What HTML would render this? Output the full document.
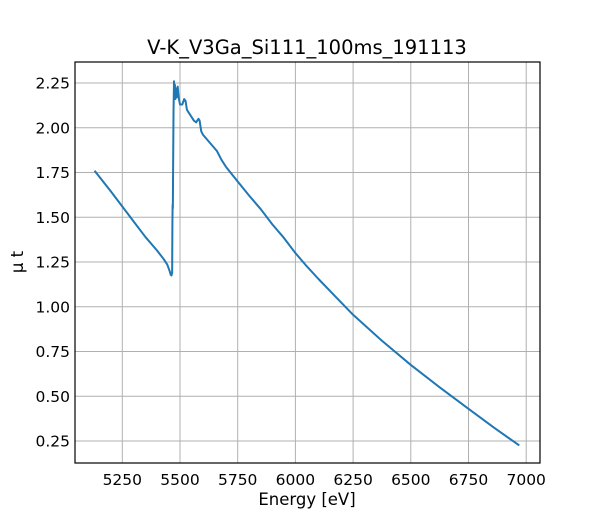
<!DOCTYPE html>
<html><head><style>body{margin:0;background:#fff}</style></head><body>
<svg width="600" height="520" xmlns="http://www.w3.org/2000/svg" font-family="DejaVu Sans, Liberation Sans, sans-serif">
<rect width="600" height="520" fill="#fff"/>
<g stroke="#b0b0b0" stroke-width="1">
<line x1="122.3" y1="62" x2="122.3" y2="463"/><line x1="180" y1="62" x2="180" y2="463"/><line x1="237.7" y1="62" x2="237.7" y2="463"/><line x1="295.4" y1="62" x2="295.4" y2="463"/><line x1="353.1" y1="62" x2="353.1" y2="463"/><line x1="410.8" y1="62" x2="410.8" y2="463"/><line x1="468.5" y1="62" x2="468.5" y2="463"/><line x1="526.2" y1="62" x2="526.2" y2="463"/>
<line x1="75" y1="83" x2="540" y2="83"/><line x1="75" y1="127.75" x2="540" y2="127.75"/><line x1="75" y1="172.5" x2="540" y2="172.5"/><line x1="75" y1="217.25" x2="540" y2="217.25"/><line x1="75" y1="262" x2="540" y2="262"/><line x1="75" y1="306.75" x2="540" y2="306.75"/><line x1="75" y1="351.5" x2="540" y2="351.5"/><line x1="75" y1="396.25" x2="540" y2="396.25"/><line x1="75" y1="441" x2="540" y2="441"/>
</g>
<g transform="matrix(0.2308,0,0,-179,-1089.4,485.75)">
<polyline fill="none" stroke="#1f77b4" stroke-width="2" vector-effect="non-scaling-stroke" stroke-linejoin="round" points="5130,1.76 5200,1.645 5250,1.56 5300,1.475 5350,1.39 5400,1.315 5430,1.265 5445,1.235 5455,1.2 5460,1.178 5463,1.175 5466,1.19 5467,1.45 5468,1.57 5469,1.55 5470,1.75 5472,2.1 5474,2.26 5476,2.18 5478,2.24 5480,2.16 5483,2.22 5486,2.17 5490,2.23 5494,2.17 5500,2.13 5510,2.13 5518,2.16 5524,2.15 5530,2.1 5545,2.07 5560,2.04 5570,2.03 5580,2.05 5585,2.04 5592,1.98 5600,1.96 5620,1.93 5640,1.9 5660,1.87 5680,1.82 5700,1.78 5750,1.7 5800,1.62 5850,1.545 5900,1.46 5950,1.385 6000,1.3 6050,1.225 6100,1.155 6175,1.055 6250,0.955 6375,0.81 6500,0.675 6625,0.55 6750,0.43 6860,0.325 6970,0.225"/>
</g>
<rect x="75" y="62" width="465" height="401" fill="none" stroke="#000" stroke-width="1.2"/>
<g font-size="15.5" fill="#000" text-anchor="middle">
<text x="122.3" y="485">5250</text><text x="180" y="485">5500</text><text x="237.7" y="485">5750</text><text x="295.4" y="485">6000</text><text x="353.1" y="485">6250</text><text x="410.8" y="485">6500</text><text x="468.5" y="485">6750</text><text x="526.2" y="485">7000</text>
<text x="307" y="505" font-size="16.5">Energy [eV]</text>
</g>
<g font-size="15.5" fill="#000" text-anchor="end">
<text x="70" y="88.5">2.25</text><text x="70" y="133.3">2.00</text><text x="70" y="178">1.75</text><text x="70" y="222.8">1.50</text><text x="70" y="267.5">1.25</text><text x="70" y="312.3">1.00</text><text x="70" y="357">0.75</text><text x="70" y="401.8">0.50</text><text x="70" y="446.5">0.25</text>
</g>
<text x="23" y="262" font-size="16.5" text-anchor="middle" transform="rotate(-90 23 262)">μ t</text>
<text x="307" y="54" font-size="19.5" text-anchor="middle">V-K_V3Ga_Si111_100ms_191113</text>
</svg>
</body></html>
